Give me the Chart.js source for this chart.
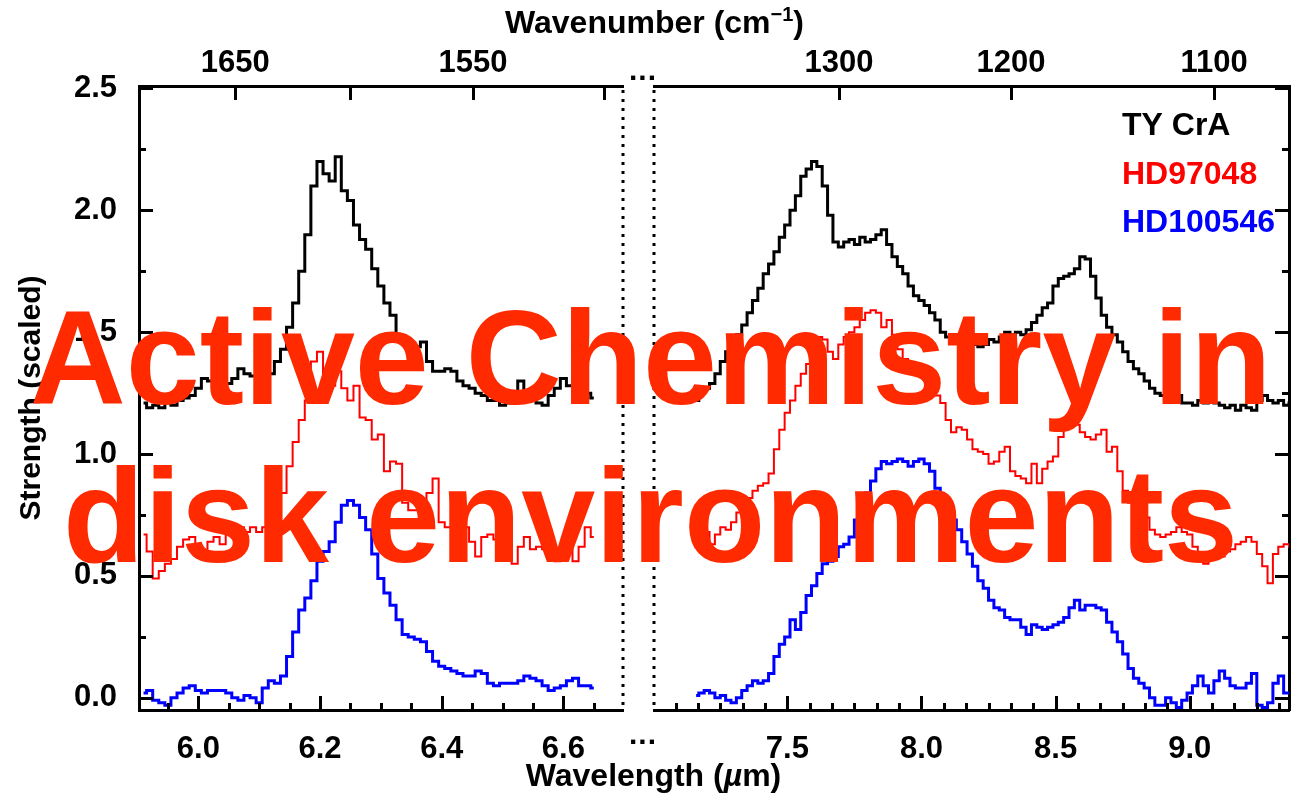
<!DOCTYPE html>
<html>
<head>
<meta charset="utf-8">
<script src="https://cdn.jsdelivr.net/npm/chart.js@4.4.1/dist/chart.umd.min.js"></script>
<style>
body{margin:0;background:#fff;}
#wrap{position:relative;width:1291px;height:800px;overflow:hidden;background:#fff;}
#wrap canvas{position:absolute;left:0;top:0;}
.lbl{position:absolute;font-family:"Liberation Sans",Arial,sans-serif;font-weight:bold;color:#000;white-space:nowrap;line-height:1;}
#banner{position:absolute;left:5px;top:279px;width:1291px;text-align:center;font-family:"Liberation Sans",Arial,sans-serif;font-weight:bold;font-size:133px;line-height:158px;color:#ff2a00;white-space:nowrap;}
</style>
</head>
<body>
<div id="wrap">
  <canvas id="leftPanel" width="1291" height="800"></canvas>
  <canvas id="rightPanel" width="1291" height="800"></canvas>
  <div class="lbl" id="topTitle" style="font-size:32px;left:0;width:1291px;text-align:center;top:4px;padding-left:18px;box-sizing:border-box;">Wavenumber (cm<sup style="font-size:20px;vertical-align:12px;">&minus;1</sup>)</div>
  <div class="lbl" id="bottomTitle" style="font-size:32px;left:0;width:1291px;text-align:center;top:759px;padding-left:16px;box-sizing:border-box;">Wavelength (<i>&micro;</i>m)</div>
  <div class="lbl" style="font-size:30px;left:629px;top:55px;letter-spacing:1px;">...</div>
  <div class="lbl" style="font-size:30px;left:629px;top:719px;letter-spacing:1px;">...</div>
  <div id="banner">Active Chemistry in<br>disk environments</div>
</div>
<script>
// wavelength grids (micron)
const leftWave = [5.91,5.92,5.93,5.94,5.95,5.96,5.97,5.98,5.99,6.00,
  6.01,6.02,6.03,6.04,6.05,6.06,6.07,6.08,6.09,6.10,
  6.11,6.12,6.13,6.14,6.15,6.16,6.17,6.18,6.19,6.20,
  6.21,6.22,6.23,6.24,6.25,6.26,6.27,6.28,6.29,6.30,
  6.31,6.32,6.33,6.34,6.35,6.36,6.37,6.38,6.39,6.40,
  6.41,6.42,6.43,6.44,6.45,6.46,6.47,6.48,6.49,6.50,
  6.51,6.52,6.53,6.54,6.55,6.56,6.57,6.58,6.59,6.60,
  6.61,6.62,6.63,6.64,6.65];
const rightWave = [7.16,7.18,7.20,7.22,7.24,7.26,7.28,7.30,7.32,7.34,
  7.36,7.38,7.40,7.42,7.44,7.46,7.48,7.50,7.52,7.54,
  7.56,7.58,7.60,7.62,7.64,7.66,7.68,7.70,7.72,7.74,
  7.76,7.78,7.80,7.82,7.84,7.86,7.88,7.90,7.92,7.94,
  7.96,7.98,8.00,8.02,8.04,8.06,8.08,8.10,8.12,8.14,
  8.16,8.18,8.20,8.22,8.24,8.26,8.28,8.30,8.32,8.34,
  8.36,8.38,8.40,8.42,8.44,8.46,8.48,8.50,8.52,8.54,
  8.56,8.58,8.60,8.62,8.64,8.66,8.68,8.70,8.72,8.74,
  8.76,8.78,8.80,8.82,8.84,8.86,8.88,8.90,8.92,8.94,
  8.96,8.98,9.00,9.02,9.04,9.06,9.08,9.10,9.12,9.14,
  9.16,9.18,9.20,9.22,9.24,9.26,9.28,9.30,9.32,9.34,
  9.36,9.38];

// TY CrA
const tyCrALeft = [1.21,1.19,1.20,1.19,1.21,1.20,1.22,1.23,1.24,1.27,
  1.31,1.30,1.28,1.30,1.29,1.31,1.35,1.33,1.32,1.34,
  1.32,1.33,1.38,1.43,1.52,1.62,1.75,1.90,2.10,2.20,
  2.15,2.12,2.22,2.08,2.04,1.94,1.88,1.84,1.76,1.69,
  1.62,1.57,1.49,1.46,1.45,1.44,1.46,1.38,1.34,1.34,
  1.35,1.34,1.30,1.28,1.27,1.25,1.24,1.22,1.22,1.20,
  1.21,1.25,1.30,1.22,1.23,1.21,1.20,1.24,1.27,1.31,
  1.28,1.29,1.27,1.25,1.23];
const tyCrARight = [1.22,1.25,1.27,1.29,1.33,1.38,1.42,1.46,1.49,1.53,
  1.58,1.63,1.68,1.74,1.78,1.83,1.89,1.94,2.00,2.06,
  2.14,2.17,2.20,2.18,2.10,1.98,1.87,1.85,1.87,1.88,
  1.86,1.89,1.87,1.88,1.90,1.92,1.86,1.81,1.77,1.74,
  1.69,1.65,1.63,1.61,1.58,1.55,1.50,1.48,1.47,1.46,
  1.45,1.44,1.45,1.44,1.45,1.47,1.46,1.48,1.50,1.49,
  1.50,1.49,1.51,1.54,1.57,1.60,1.62,1.69,1.72,1.73,
  1.74,1.76,1.81,1.80,1.73,1.64,1.57,1.52,1.49,1.46,
  1.42,1.38,1.35,1.33,1.30,1.27,1.25,1.24,1.23,1.22,
  1.24,1.21,1.21,1.20,1.22,1.21,1.23,1.21,1.20,1.19,
  1.20,1.18,1.20,1.19,1.18,1.22,1.24,1.22,1.21,1.22,
  1.20,1.21];

// HD97048
const hd97048Left = [0.67,0.60,0.49,0.52,0.55,0.57,0.62,0.65,0.66,0.62,
  0.60,0.64,0.66,0.63,0.67,0.69,0.70,0.68,0.70,0.68,
  0.70,0.73,0.77,0.84,0.95,1.05,1.14,1.22,1.38,1.42,
  1.30,1.28,1.34,1.27,1.22,1.28,1.15,1.14,1.06,1.08,
  0.93,0.97,0.96,0.80,0.77,0.77,0.78,0.84,0.90,0.72,
  0.70,0.71,0.72,0.70,0.64,0.58,0.66,0.67,0.65,0.62,
  0.59,0.55,0.62,0.66,0.61,0.62,0.61,0.58,0.56,0.62,
  0.65,0.56,0.62,0.70,0.66];
const hd97048Right = [0.70,0.66,0.68,0.63,0.67,0.70,0.69,0.72,0.76,0.80,
  0.82,0.85,0.87,0.88,0.92,1.02,1.10,1.17,1.22,1.28,
  1.33,1.37,1.40,1.48,1.47,1.42,1.39,1.45,1.48,1.50,
  1.52,1.55,1.58,1.59,1.58,1.52,1.55,1.49,1.43,1.39,
  1.37,1.35,1.33,1.30,1.27,1.24,1.21,1.14,1.09,1.11,
  1.10,1.06,1.02,1.01,1.00,0.96,0.97,1.01,1.03,0.93,
  0.91,0.90,0.88,0.96,0.88,0.94,0.97,0.99,1.07,1.11,
  1.13,1.12,1.09,1.07,1.06,1.08,1.10,1.01,1.03,0.93,
  0.85,0.80,0.78,0.76,0.74,0.69,0.67,0.66,0.67,0.68,
  0.70,0.68,0.67,0.62,0.56,0.55,0.57,0.58,0.58,0.60,
  0.61,0.63,0.64,0.66,0.64,0.59,0.54,0.47,0.59,0.62,
  0.63,0.62];

// HD100546
const hd100546Left = [0.02,0.03,-0.01,-0.02,-0.03,0.00,0.02,0.04,0.05,0.03,
  0.02,0.03,0.03,0.03,0.02,0.00,-0.01,0.01,0.00,-0.02,
  0.04,0.07,0.06,0.09,0.17,0.27,0.36,0.41,0.48,0.56,
  0.60,0.64,0.72,0.79,0.81,0.79,0.74,0.69,0.59,0.49,
  0.43,0.38,0.32,0.26,0.25,0.24,0.23,0.19,0.15,0.13,
  0.12,0.11,0.10,0.09,0.09,0.11,0.10,0.06,0.05,0.06,
  0.06,0.06,0.07,0.09,0.08,0.07,0.05,0.03,0.04,0.05,
  0.07,0.08,0.05,0.05,0.04];
const hd100546Right = [0.01,0.02,0.03,0.02,0.00,0.01,-0.01,-0.02,0.00,0.03,
  0.05,0.07,0.06,0.07,0.10,0.17,0.22,0.25,0.32,0.28,
  0.35,0.42,0.46,0.51,0.55,0.56,0.58,0.62,0.63,0.66,
  0.73,0.79,0.84,0.89,0.94,0.97,0.96,0.97,0.98,0.97,
  0.95,0.97,0.98,0.96,0.93,0.86,0.82,0.78,0.73,0.69,
  0.64,0.59,0.54,0.48,0.45,0.40,0.37,0.36,0.33,0.32,
  0.32,0.29,0.26,0.30,0.29,0.28,0.29,0.30,0.31,0.33,
  0.37,0.40,0.36,0.38,0.38,0.37,0.36,0.31,0.27,0.23,
  0.18,0.12,0.08,0.06,0.04,0.00,-0.03,-0.03,0.00,-0.02,
  -0.04,-0.01,0.02,0.05,0.09,0.05,0.02,0.07,0.11,0.08,
  0.05,0.04,0.04,0.06,0.10,-0.03,-0.04,-0.02,0.06,0.09,
  0.02,0.02];

const seriesNames = ["TY CrA","HD97048","HD100546"];
const seriesColors = ["#000000","#ff0000","#0000ff"];
const seriesWidths = [3,2,3];

// ticks
const yTicks = [0.0,0.5,1.0,1.5,2.0,2.5];
const yMinor = [0.25,0.75,1.25,1.75,2.25];
const leftWaveTicks = [6.0,6.2,6.4,6.6];
const leftWaveMinor = [5.95,6.05,6.10,6.15,6.25,6.30,6.35,6.45,6.50,6.55,6.65];
const rightWaveTicks = [7.5,8.0,8.5,9.0];
const rightWaveMinor = [7.0833,7.1667,7.25,7.3333,7.4167,7.5833,7.6667,7.75,7.8333,7.9167,
  8.0833,8.1667,8.25,8.3333,8.4167,8.5833,8.6667,8.75,8.8333,8.9167,9.0833,9.1667,9.25,9.3333];
const leftWnLabels = [1650,1550];
const leftWnMarks = [1650,1600,1550,1500];
const rightWnLabels = [1300,1200,1100];
const rightWnMarks = [1300,1200,1100];

const FONT = {family:'"Liberation Sans", Arial, sans-serif', size:31, weight:'bold'};

function mkSets(wave, lists){
  return lists.map((vals,i)=>({
    label: seriesNames[i],
    data: vals.map((v,k)=>({x:wave[k], y:v})),
    borderColor: seriesColors[i],
    backgroundColor: seriesColors[i],
    borderWidth: seriesWidths[i],
    pointRadius: 0,
    stepped: 'middle',
    fill: false
  }));
}

// inward IDL-style ticks, dotted panel break, text legend
const idlAxes = {
  id:'idlAxes',
  afterDatasetsDraw(chart, args, o){
    const ctx = chart.ctx, a = chart.chartArea;
    ctx.save();
    ctx.strokeStyle = '#000'; ctx.lineWidth = 3; ctx.lineCap = 'butt';
    (o.marks||[]).forEach(m=>{
      const s = chart.scales[m.scale];
      m.values.forEach(v=>{
        const p = Math.round(s.getPixelForValue(v)) + 0.5;
        ctx.beginPath();
        if(m.edge==='bottom'){ ctx.moveTo(p,a.bottom); ctx.lineTo(p,a.bottom-m.len); }
        else if(m.edge==='top'){ ctx.moveTo(p,a.top); ctx.lineTo(p,a.top+m.len); }
        else if(m.edge==='left'){ ctx.moveTo(a.left,p); ctx.lineTo(a.left+m.len,p); }
        else { ctx.moveTo(a.right,p); ctx.lineTo(a.right-m.len,p); }
        ctx.stroke();
      });
    });
    if(o.dotted){
      const x = o.dotted==='right' ? a.right : a.left;
      ctx.setLineDash([3,6]);
      ctx.beginPath(); ctx.moveTo(x, a.top+4); ctx.lineTo(x, a.bottom); ctx.stroke();
      ctx.setLineDash([]);
    }
    if(o.legend){
      ctx.font = 'bold 32px "Liberation Sans", Arial, sans-serif';
      ctx.textAlign = 'left'; ctx.textBaseline = 'alphabetic';
      chart.data.datasets.forEach((d,i)=>{
        ctx.fillStyle = d.borderColor;
        ctx.fillText(d.label, o.legend.x, o.legend.y + i*o.legend.gap);
      });
    }
    ctx.restore();
  }
};

function wnScale(min,max,labels){
  return {
    type:'linear', position:'top', min:min, max:max,
    grid:{display:false}, border:{display:true,color:'#000',width:3},
    ticks:{color:'#000', font:FONT, padding:-4, maxRotation:0,
      callback:(v)=>String(Math.round(10000/v))},
    afterBuildTicks:(s)=>{ s.ticks = labels.map(n=>({value:10000/n})); },
    afterFit:(s)=>{ s.height = 86; }
  };
}
function waveScale(min,max,ticks){
  return {
    type:'linear', position:'bottom', min:min, max:max,
    grid:{display:false}, border:{display:true,color:'#000',width:3},
    ticks:{color:'#000', font:FONT, padding:13, maxRotation:0,
      callback:(v)=>Number(v).toFixed(1)},
    afterBuildTicks:(s)=>{ s.ticks = ticks.map(v=>({value:v})); },
    afterFit:(s)=>{ s.height = 90; }
  };
}

const leftMin = 5.9025, leftMax = 6.698;
const rightMin = 7.003, rightMax = 9.37;
const yMin = -0.05, yMax = 2.51;

new Chart(document.getElementById('leftPanel'), {
  type:'line',
  data:{datasets: mkSets(leftWave, [tyCrALeft, hd97048Left, hd100546Left])},
  options:{
    responsive:false, animation:false, events:[],
    layout:{padding:{left:0,right:668,top:0,bottom:0}},
    plugins:{legend:{display:false}, tooltip:{enabled:false},
      idlAxes:{
        dotted:'right',
        marks:[
          {scale:'x', edge:'bottom', values:leftWaveTicks, len:14},
          {scale:'x', edge:'bottom', values:leftWaveMinor, len:7},
          {scale:'xTop', edge:'top', values:leftWnMarks.map(n=>10000/n), len:14},
          {scale:'y', edge:'left', values:yTicks, len:14},
          {scale:'y', edge:'left', values:yMinor, len:7}
        ]}
    },
    scales:{
      x: waveScale(leftMin, leftMax, leftWaveTicks),
      xTop: wnScale(leftMin, leftMax, leftWnLabels),
      y:{
        type:'linear', position:'left', min:yMin, max:yMax,
        grid:{display:false}, border:{display:true,color:'#000',width:3},
        ticks:{color:'#000', font:FONT, padding:14, callback:(v)=>Number(v).toFixed(1)},
        afterBuildTicks:(s)=>{ s.ticks = yTicks.map(v=>({value:v})); },
        afterFit:(s)=>{ s.width = 139; },
        title:{display:true, text:'Strength (scaled)', color:'#000',
          font:{family:'"Liberation Sans", Arial, sans-serif', size:30, weight:'bold'},
          padding:{top:14,bottom:0}}
      }
    }
  },
  plugins:[idlAxes]
});

new Chart(document.getElementById('rightPanel'), {
  type:'line',
  data:{datasets: mkSets(rightWave, [tyCrARight, hd97048Right, hd100546Right])},
  options:{
    responsive:false, animation:false, events:[],
    layout:{padding:{left:654,right:0,top:0,bottom:0}},
    plugins:{legend:{display:false}, tooltip:{enabled:false},
      idlAxes:{
        dotted:'left',
        legend:{x:1122, y:135, gap:48.5},
        marks:[
          {scale:'x', edge:'bottom', values:rightWaveTicks, len:14},
          {scale:'x', edge:'bottom', values:rightWaveMinor, len:7},
          {scale:'xTop', edge:'top', values:rightWnMarks.map(n=>10000/n), len:14},
          {scale:'y', edge:'right', values:yTicks, len:14},
          {scale:'y', edge:'right', values:yMinor, len:7}
        ]}
    },
    scales:{
      x: waveScale(rightMin, rightMax, rightWaveTicks),
      xTop: wnScale(rightMin, rightMax, rightWnLabels),
      y:{
        type:'linear', position:'right', min:yMin, max:yMax,
        grid:{display:false}, border:{display:true,color:'#000',width:3},
        ticks:{display:false},
        afterFit:(s)=>{ s.width = 2; }
      }
    }
  },
  plugins:[idlAxes]
});
</script>
</body>
</html>
